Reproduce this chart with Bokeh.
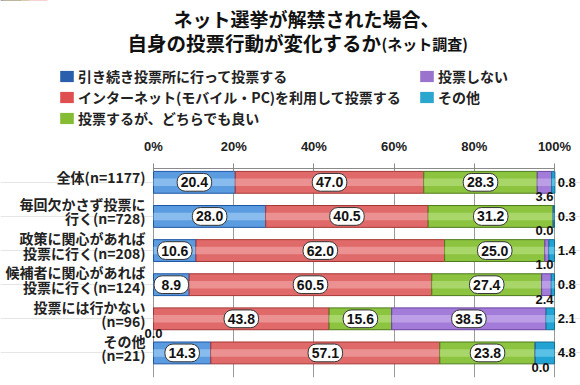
from bokeh.plotting import figure
from bokeh.layouts import column
from bokeh.models import (ColumnDataSource, FixedTicker, Legend, LegendItem, Range1d)
from bokeh.embed import file_html
from bokeh.resources import INLINE
from bokeh.core.properties import value

# ---------------- data ----------------
categories = ["全体(n=1177)", "毎回欠かさず投票に\n行く(n=728)", "政策に関心があれば\n投票に行く(n=208)",
              "候補者に関心があれば\n投票に行く(n=124)", "投票には行かない\n(n=96)", "その他\n(n=21)"]
series_names = ["引き続き投票所に行って投票する", "インターネット(モバイル・PC)を利用して投票する",
                "投票するが、どちらでも良い", "投票しない", "その他"]
s_poll = [20.4, 28.0, 10.6, 8.9, 0.0, 14.3]
s_net = [47.0, 40.5, 62.0, 60.5, 43.8, 57.1]
s_either = [28.3, 31.2, 25.0, 27.4, 15.6, 23.8]
s_novote = [3.6, 0.0, 1.0, 2.4, 38.5, 0.0]
s_other = [0.8, 0.3, 1.4, 0.8, 2.1, 4.8]
x_ticks = [0, 20, 40, 60, 80, 100]
x_tick_labels = ["0%", "20%", "40%", "60%", "80%", "100%"]
title_line1 = "ネット選挙が解禁された場合、"
title_line2 = "自身の投票行動が変化するか"
title_note = "(ネット調査)"

series = [s_poll, s_net, s_either, s_novote, s_other]
fills = ["#5b9ce0", "#e06a6a", "#8cc43f", "#a27cd8", "#22a3d3"]
lines = ["#1d55a6", "#a53535", "#4f7a1c", "#6840a0", "#10708f"]
highs = ["#9ccbf3", "#f0a3a3", "#b5de7a", "#c6acec", "#70cdee"]
legend_fills = ["#2a5fae", "#e04f4f", "#86bc34", "#9a74cc", "#2aa6cf"]

JP = "Noto Sans CJK JP"
NUM = "Liberation Sans"

rows = list(range(len(categories)))
BAR_H = 0.64

W = 580
HEAD_H = 135
MAIN_H = 250
LEFT_PX = 153          # distance from figure left to the 0% position
PX_PER_UNIT = 4.01
x_start = -LEFT_PX / PX_PER_UNIT
x_end = (W - LEFT_PX) / PX_PER_UNIT

# ---------------- header: titles + legend ----------------
head = figure(width=W, height=HEAD_H, x_range=Range1d(0, W), y_range=Range1d(HEAD_H, 0),
              x_axis_location=None, y_axis_location=None, output_backend="svg",
              toolbar_location=None, title=None, min_border=0)
head.outline_line_color = None
head.xgrid.grid_line_color = None
head.ygrid.grid_line_color = None

head.text(x=[173], y=[18], text=[title_line1], text_align="left", text_baseline="middle",
          text_font=value(JP), text_font_style="bold", text_font_size="19px", text_color="#111111")
head.text(x=[127], y=[42], text=[title_line2], text_align="left", text_baseline="middle",
          text_font=value(JP), text_font_style="bold", text_font_size="19.5px", text_color="#111111")
head.text(x=[381], y=[43], text=[title_note], text_align="left", text_baseline="middle",
          text_font=value(JP), text_font_style="bold", text_font_size="15px", text_color="#111111")

legend_items = []
for k, name in enumerate(series_names):
    # off-canvas proxy renderer, only used to draw the legend swatch
    r = head.hbar(y=[-1000], left=[0], right=[series[k][0]], height=1,
                  fill_color=legend_fills[k], line_color=None)
    legend_items.append(LegendItem(label=name, renderers=[r]))
legend = Legend(items=legend_items, nrows=3, orientation="vertical",
                location=(58, 7), glyph_width=17, glyph_height=14,
                label_text_font=JP, label_text_font_style="bold", label_text_font_size="14px",
                label_text_color="#222222", label_height=14, label_width=339, spacing=1,
                label_standoff=3, padding=0, margin=0, border_line_color=None,
                background_fill_alpha=0)
head.add_layout(legend, "center")

# ---------------- main chart ----------------
p = figure(width=W, height=MAIN_H, x_range=Range1d(x_start, x_end), y_range=Range1d(5.72, -0.405),
           x_axis_location="above", y_axis_location=None, output_backend="svg",
           toolbar_location=None, title=None,
           min_border_left=0, min_border_right=0, min_border_bottom=8, min_border_top=30)
p.outline_line_color = None
p.background_fill_color = "white"

xa = p.xaxis[0]
xa.ticker = FixedTicker(ticks=x_ticks)
xa.major_label_overrides = {t: l for t, l in zip(x_ticks, x_tick_labels)}
xa.bounds = (0, 100)
xa.axis_line_color = "#8a8a8a"
xa.major_tick_line_color = "#8a8a8a"
xa.major_tick_in = 3
xa.major_tick_out = 5
xa.minor_tick_line_color = None
xa.major_label_text_font = NUM
xa.major_label_text_font_style = "bold"
xa.major_label_text_font_size = "13px"
xa.major_label_text_color = "#222222"
xa.major_label_standoff = 10

p.xgrid.ticker = FixedTicker(ticks=x_ticks)
p.xgrid.grid_line_color = "#9a9a9a"

# category labels (split into lines, right-aligned left of the 0% line)
cat = dict(x=[], y=[], t=[])
for i, c in enumerate(categories):
    parts = c.split("\n")
    n = len(parts)
    for j, part in enumerate(parts):
        cat["x"].append(-2.0)
        cat["y"].append(i - 0.15 + (j - (n - 1) / 2) * 0.42)
        cat["t"].append(part)
p.text(x="x", y="y", text="t", source=ColumnDataSource(cat), text_align="right",
       text_baseline="middle", text_font=value(JP), text_font_style="bold",
       text_font_size="14px", text_color="#222222")

left = [0.0] * len(rows)
inside = dict(x=[], y=[], t=[], l=[], r=[])
below = dict(x=[], y=[], t=[])
right = dict(x=[], y=[], t=[])
for k, vals in enumerate(series):
    rgt = [l + v for l, v in zip(left, vals)]
    src = ColumnDataSource(dict(y=rows, left=left, right=rgt))
    p.hbar(y="y", left="left", right="right", height=BAR_H, source=src,
           fill_color=fills[k], line_color=lines[k], line_width=1)
    p.hbar(y="y", left="left", right="right", height=BAR_H * 0.34, source=src,
           fill_color=highs[k], fill_alpha=0.7, line_color=None)
    for i, (l0, v) in enumerate(zip(left, vals)):
        mid = l0 + v / 2
        txt = f"{v:.1f}"
        if k == 4:
            right["x"].append(100.8); right["y"].append(i); right["t"].append(txt)
        elif v >= 5:
            inside["x"].append(mid); inside["y"].append(i); inside["t"].append(txt)
            inside["l"].append(mid - 4.3); inside["r"].append(mid + 4.3)
        elif k == 3:
            below["x"].append(min(max(mid, 96.5), 97.5)); below["y"].append(i + 0.42); below["t"].append(txt)
        else:
            below["x"].append(mid); below["y"].append(i + 0.42); below["t"].append(txt)
    left = rgt

in_src = ColumnDataSource(inside)
p.hbar(y="y", left="l", right="r", height=0.52, source=in_src, fill_color="white",
       line_color="#333333", line_width=1, border_radius=8)
p.text(x="x", y="y", text="t", source=in_src, text_align="center", text_baseline="middle",
       text_font=value(NUM), text_font_style="bold", text_font_size="14px", text_color="#111111")
p.text(x="x", y="y", text="t", source=ColumnDataSource(below), text_align="center",
       text_baseline="middle", text_font=value(NUM), text_font_style="bold",
       text_font_size="13px", text_color="#111111")
p.text(x="x", y="y", text="t", source=ColumnDataSource(right), text_align="left",
       text_baseline="middle", text_font=value(NUM), text_font_style="bold",
       text_font_size="13px", text_color="#111111")

layout = column(head, p, spacing=0)
open("out.html", "w").write(file_html(layout, INLINE))
